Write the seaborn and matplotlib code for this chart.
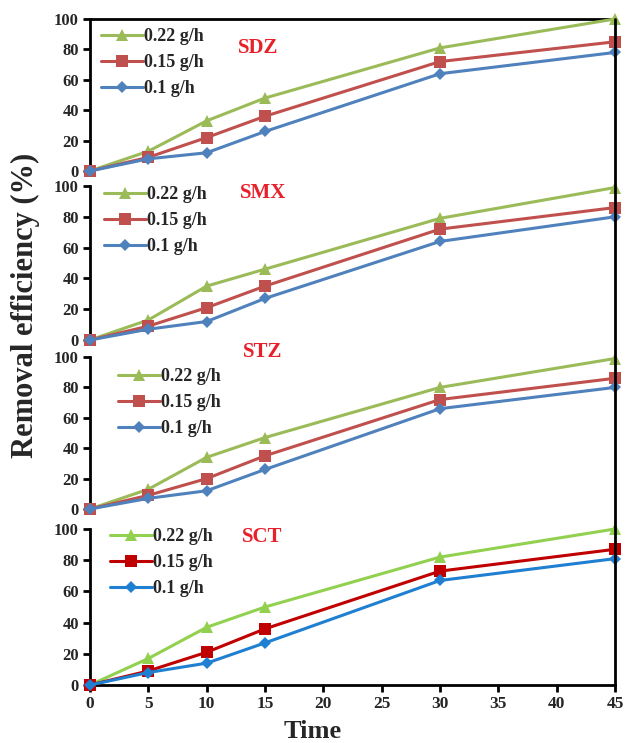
import numpy as np
import pandas as pd
import matplotlib
matplotlib.use("Agg")
import matplotlib.pyplot as plt
import seaborn as sns
from matplotlib.lines import Line2D

time = [0, 5, 10, 15, 30, 45]
doses = ["0.22 g/h", "0.15 g/h", "0.1 g/h"]
compounds = ["SDZ", "SMX", "STZ", "SCT"]

sdz_022 = [0, 13, 33, 48, 81, 100]
sdz_015 = [0, 9, 22, 36, 72, 85]
sdz_01 = [0, 8, 12, 26, 64, 78]

smx_022 = [0, 13, 35, 46, 79, 99]
smx_015 = [0, 9, 21, 35, 72, 86]
smx_01 = [0, 7, 12, 27, 64, 80]

stz_022 = [0, 13, 34, 47, 80, 99]
stz_015 = [0, 9, 20, 35, 72, 86]
stz_01 = [0, 7, 12, 26, 66, 80]

sct_022 = [0, 17, 37, 50, 82, 100]
sct_015 = [0, 9, 21, 36, 73, 87]
sct_01 = [0, 8, 14, 27, 67, 81]

values = {
    "SDZ": [sdz_022, sdz_015, sdz_01],
    "SMX": [smx_022, smx_015, smx_01],
    "STZ": [stz_022, stz_015, stz_01],
    "SCT": [sct_022, sct_015, sct_01],
}

sns.set_theme(style="white")
plt.rcParams['font.family'] = ['Liberation Serif', 'DejaVu Serif']
plt.rcParams['font.weight'] = 'bold'

W, H = 625, 743
fig = plt.figure(figsize=(6.25, 7.43), dpi=100)

# panel pixel extents (top, bottom)
panels = [(19, 171), (186, 340), (357, 509), (529, 685)]
x_left, x_right = 90, 615

colors_soft = {"0.22 g/h": "#9BBB59", "0.15 g/h": "#C0504D", "0.1 g/h": "#4F81BD"}
colors_sct = {"0.22 g/h": "#92D050", "0.15 g/h": "#C00000", "0.1 g/h": "#1F7FD0"}
markers = {"0.22 g/h": "^", "0.15 g/h": "s", "0.1 g/h": "D"}
msizes = {"0.22 g/h": 9, "0.15 g/h": 8.5, "0.1 g/h": 6.5}

title_pos = [(258, 48), (263, 193), (263, 352), (262, 537)]
# (handle start x, first row center y)
legend_anchor = [(101, 38), (104, 196), (118, 378), (110, 538)]

for i, comp in enumerate(compounds):
    top, bot = panels[i]
    ax = fig.add_axes([x_left / W, 1 - bot / H, (x_right - x_left) / W, (bot - top) / H])
    rows = []
    for d, ys in zip(doses, values[comp]):
        for t, v in zip(time, ys):
            rows.append({"Time": t, "Removal": v, "Dose": d})
    df = pd.DataFrame(rows)
    pal = colors_sct if comp == "SCT" else colors_soft
    for d in doses:
        sub = df[df["Dose"] == d]
        sns.lineplot(data=sub, x="Time", y="Removal", ax=ax, color=pal[d],
                     marker=markers[d], markersize=msizes[d], markeredgewidth=0,
                     linewidth=2.2, label=d, clip_on=False, zorder=3)
    ax.set_xlim(0, 45)
    ax.set_ylim(0, 100)
    ax.set_yticks([0, 20, 40, 60, 80, 100])
    ax.set_xticks([0, 5, 10, 15, 20, 25, 30, 35, 40, 45])
    ax.set_xlabel("")
    ax.set_ylabel("")
    for s in ["left", "right", "top", "bottom"]:
        ax.spines[s].set_color("black")
        ax.spines[s].set_linewidth(2)
    ax.spines["right"].set_visible(False)
    ax.spines["top"].set_visible(i == 0)
    ax.spines["bottom"].set_visible(i == 3)
    ax.tick_params(axis="y", which="major", direction="out", length=5, width=2,
                   left=True, labelsize=12, pad=3, color="black")
    if i == 3:
        ax.tick_params(axis="x", which="major", direction="out", length=5, width=2,
                       bottom=True, labelsize=12.5, pad=3, color="black")
    else:
        ax.tick_params(axis="x", bottom=False, labelbottom=False)
    for lab in ax.get_yticklabels() + ax.get_xticklabels():
        lab.set_fontweight("bold")
    ax.set_facecolor("none")
    lx, ly = legend_anchor[i]
    leg = ax.legend(loc="upper left", bbox_to_anchor=(lx / W, 1 - (ly - 10) / H),
                    bbox_transform=fig.transFigure, frameon=False,
                    prop={"weight": "bold", "size": 13}, handlelength=2.3,
                    handletextpad=0.1, labelspacing=0.5, borderpad=0,
                    borderaxespad=0)
    tx, ty = title_pos[i]
    fig.text(tx / W, 1 - ty / H, comp, color="#E8202A", fontsize=15,
             fontweight="bold", ha="center", va="center")

fig.add_artist(Line2D([x_right / W, x_right / W], [1 - 19 / H, 1 - 685 / H],
                      color="black", linewidth=2, transform=fig.transFigure))
fig.text(25 / W, 1 - 305 / H, "Removal efficiency (%)", rotation=90,
         fontsize=22, fontweight="bold", ha="center", va="center")
fig.text(313 / W, 1 - 731 / H, "Time", fontsize=19, fontweight="bold",
         ha="center", va="center")

fig.savefig("out.png", dpi=100)
